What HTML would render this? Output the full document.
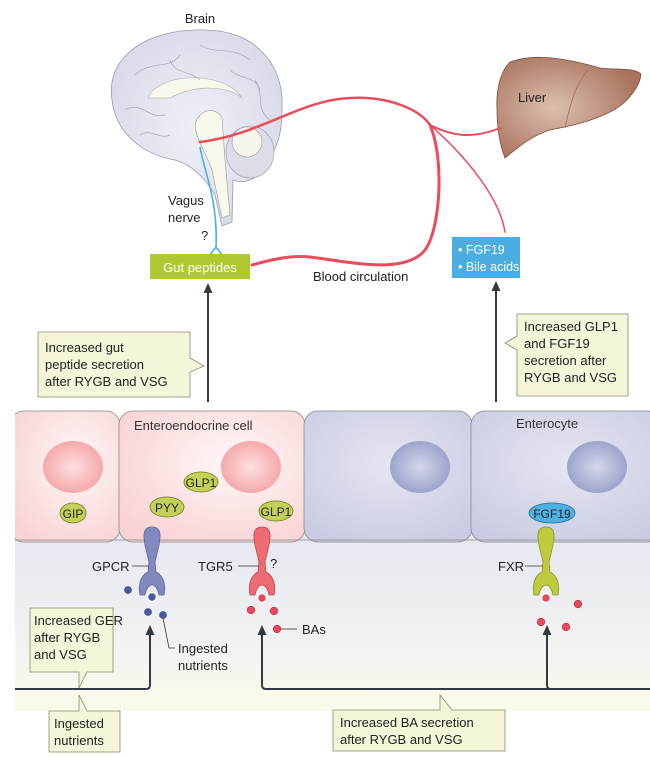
<!DOCTYPE html>
<html><head><meta charset="utf-8"><style>
html,body{margin:0;padding:0;background:#fff;}
svg{display:block;font-family:"Liberation Sans",sans-serif;}
</style></head><body>
<svg width="650" height="758" viewBox="0 0 650 758" xmlns="http://www.w3.org/2000/svg">
<defs>
<linearGradient id="lumen" x1="0" y1="0" x2="0" y2="1">
<stop offset="0" stop-color="#e6e8f1"/><stop offset="0.7" stop-color="#f4f4f2"/><stop offset="1" stop-color="#fbfbe9"/></linearGradient>
<radialGradient id="pinkcell" cx="0.6" cy="0.4" r="0.7"><stop offset="0" stop-color="#fff7f7"/><stop offset="1" stop-color="#f9d3d4"/></radialGradient>
<radialGradient id="bluecell" cx="0.5" cy="0.4" r="0.7"><stop offset="0" stop-color="#e5e6f2"/><stop offset="1" stop-color="#c9cbe3"/></radialGradient>
<radialGradient id="pnuc"><stop offset="0" stop-color="#fde0e0"/><stop offset="1" stop-color="#f5a9ab"/></radialGradient>
<radialGradient id="bnuc"><stop offset="0" stop-color="#d5d7ec"/><stop offset="1" stop-color="#9ea3cc"/></radialGradient>
<radialGradient id="liv" cx="0.4" cy="0.5" r="0.6"><stop offset="0" stop-color="#dcc0b0"/><stop offset="1" stop-color="#a9735d"/></radialGradient>
<radialGradient id="brn" cx="0.5" cy="0.5" r="0.6"><stop offset="0" stop-color="#f0f0f7"/><stop offset="1" stop-color="#d7d9e8"/></radialGradient>
<marker id="ah" markerUnits="userSpaceOnUse" markerWidth="10" markerHeight="10" refX="5" refY="5" orient="auto"><path d="M0,0.5 L10,5 L0,9.5 z" fill="#333a44"/></marker>
<path id="rec" d="M0,527 C9,527 9,535 7,545 L3,562 L4,572 C12,576 14,586 12,595 L7,595 C6,589 3,585 0,585 C-3,585 -6,589 -7,595 L-12,595 C-14,586 -12,576 -4,572 L-3,562 L-7,545 C-9,535 -9,527 0,527Z"/>
</defs>

<rect x="15" y="535" width="635" height="176" fill="url(#lumen)"/>

<rect x="10" y="411" width="110" height="131" rx="14" fill="url(#pinkcell)" stroke="#8a8a8a" stroke-width="0.8"/>
<rect x="119" y="411" width="186" height="131" rx="14" fill="url(#pinkcell)" stroke="#8a8a8a" stroke-width="0.8"/>
<rect x="304" y="411" width="168" height="131" rx="14" fill="url(#bluecell)" stroke="#8a8a8a" stroke-width="0.8"/>
<rect x="471" y="411" width="190" height="131" rx="14" fill="url(#bluecell)" stroke="#8a8a8a" stroke-width="0.8"/>
<rect x="0" y="405" width="15" height="140" fill="#fff"/>
<line x1="15" y1="540" x2="650" y2="540" stroke="#8a8a8a" stroke-width="0.8"/>

<ellipse cx="73" cy="467" rx="30" ry="26" fill="url(#pnuc)"/>
<ellipse cx="251" cy="467" rx="30" ry="26" fill="url(#pnuc)"/>
<ellipse cx="420" cy="467" rx="30" ry="26" fill="url(#bnuc)"/>
<ellipse cx="597" cy="467" rx="30" ry="26" fill="url(#bnuc)"/>

<text x="134" y="430" font-size="13" fill="#333">Enteroendocrine cell</text>
<text x="516" y="428" font-size="13" fill="#333">Enterocyte</text>

<g font-size="12" fill="#222" text-anchor="middle" stroke-width="0.8">
<ellipse cx="73" cy="513" rx="13" ry="10" fill="#c3d159" stroke="#6d7a22"/><text x="73" y="518">GIP</text>
<ellipse cx="167" cy="507" rx="17" ry="10" fill="#c3d159" stroke="#6d7a22"/><text x="167" y="512">PYY</text>
<ellipse cx="201" cy="482" rx="17" ry="10" fill="#c3d159" stroke="#6d7a22"/><text x="201" y="487">GLP1</text>
<ellipse cx="276" cy="511" rx="17" ry="10" fill="#c3d159" stroke="#6d7a22"/><text x="276" y="516">GLP1</text>
<ellipse cx="552" cy="513" rx="23" ry="10" fill="#4db1e3" stroke="#1f6f9a"/><text x="552" y="518">FGF19</text>
</g>

<use href="#rec" transform="translate(152,0)" fill="#8289be" stroke="#5b619a" stroke-width="0.8"/>
<use href="#rec" transform="translate(262,0)" fill="#ee6b74" stroke="#c0464f" stroke-width="0.8"/>
<use href="#rec" transform="translate(546,0)" fill="#bfcb3f" stroke="#8a9424" stroke-width="0.8"/>

<g font-size="13" fill="#222">
<text x="92" y="571">GPCR</text><line x1="132" y1="566" x2="149" y2="566" stroke="#333" stroke-width="0.8"/>
<text x="198" y="571">TGR5</text><line x1="238" y1="566" x2="259" y2="566" stroke="#333" stroke-width="0.8"/>
<text x="270" y="568">?</text>
<text x="498" y="571">FXR</text><line x1="525" y1="566" x2="543" y2="566" stroke="#333" stroke-width="0.8"/>
<text x="302" y="634">BAs</text><line x1="281" y1="629" x2="297" y2="629" stroke="#333" stroke-width="0.8"/>
<text x="178" y="653">Ingested</text><text x="178" y="670">nutrients</text>
<polyline points="163,618 169,648 175,648" fill="none" stroke="#333" stroke-width="0.8"/>
</g>

<g fill="#4a58a3" stroke="#2a347a" stroke-width="0.6">
<circle cx="128" cy="590" r="3.5"/><circle cx="148" cy="612" r="3.5"/><circle cx="163" cy="615" r="3.5"/></g>
<circle cx="152" cy="597" r="4.5" fill="#4a58a3" stroke="#fff" stroke-width="1.5"/>
<g fill="#e84a5c" stroke="#b02a3a" stroke-width="0.6">
<circle cx="251" cy="610" r="3.8"/><circle cx="274" cy="611" r="3.8"/><circle cx="277" cy="629" r="3.8"/>
<circle cx="578" cy="604" r="3.8"/><circle cx="541" cy="622" r="3.8"/><circle cx="566" cy="627" r="3.8"/></g>
<circle cx="262" cy="598" r="4.5" fill="#e84a5c" stroke="#fff" stroke-width="1.5"/>
<circle cx="546" cy="598" r="4.5" fill="#e84a5c" stroke="#fff" stroke-width="1.5"/>

<g fill="none" stroke="#333a44" stroke-width="2">
<path d="M15,689 L146,689 Q150,689 150,685 L150,630" marker-end="url(#ah)"/>
<path d="M650,689 L266,689 Q262,689 262,685 L262,630" marker-end="url(#ah)"/>
<path d="M551,689 Q547,689 547,685 L547,630" marker-end="url(#ah)"/>
<path d="M208,402 L208,288" marker-end="url(#ah)"/>
<path d="M496,402 L496,286" marker-end="url(#ah)"/>
</g>

<g fill="#f4f5d9" stroke="#8a8a6a" stroke-width="0.8">
<path d="M30,608 L113,608 L113,672 L87,672 L79,688 L79,672 L30,672 Z"/>
<path d="M49,711 L79,711 L79,695 L87,711 L120,711 L120,752 L49,752 Z"/>
<path d="M333,710 L440,710 L440,695 L452,710 L505,710 L505,751 L333,751 Z"/>
<path d="M38,332 L190,332 L190,358 L204,366 L190,372 L190,397 L38,397 Z"/>
<path d="M517,314 L628,314 L628,396 L517,396 L517,350 L505,343 L517,336 Z"/>
</g>
<g font-size="13" fill="#222">
<text x="34" y="625">Increased GER</text><text x="34" y="642">after RYGB</text><text x="34" y="659">and VSG</text>
<text x="54" y="728">Ingested</text><text x="54" y="745">nutrients</text>
<text x="340" y="727">Increased BA secretion</text><text x="340" y="744">after RYGB and VSG</text>
<text x="45" y="352">Increased gut</text><text x="45" y="369">peptide secretion</text><text x="45" y="386">after RYGB and VSG</text>
<text x="524" y="331">Increased GLP1</text><text x="524" y="348">and FGF19</text><text x="524" y="365">secretion after</text><text x="524" y="382">RYGB and VSG</text>
</g>

<!-- brain -->
<path d="M112,100 C105,55 150,28 205,30 C255,30 285,65 282,110 C282,135 276,150 268,160 C262,178 245,185 233,180 L232,222 L222,226 L215,195 C205,178 192,165 175,160 C145,155 116,135 112,100Z" fill="url(#brn)" stroke="#999aae" stroke-width="0.8"/>
<ellipse cx="250" cy="152" rx="24" ry="26" fill="#dcdde8" stroke="#999" stroke-width="0.6"/>
<circle cx="247" cy="142" r="15" fill="#f6f6ec" stroke="#999" stroke-width="0.6"/>
<path d="M148,98 C158,72 225,70 242,98 C232,88 200,82 170,98 Z" fill="#f8f8ec" stroke="#aaa" stroke-width="0.6"/>
<path d="M195,125 C198,110 215,105 222,118 L225,160 L230,215 L222,218 L212,170 C205,150 196,140 195,125Z" fill="#f8f8ec" stroke="#999" stroke-width="0.6"/>
<g fill="none" stroke="#a4a6b8" stroke-width="0.7">
<path d="M135,75 C150,60 170,70 180,55 M200,45 C215,55 230,45 250,60 M255,80 C265,95 255,110 270,120 M125,110 C140,100 150,120 165,115 M170,60 C175,75 190,70 200,80 M230,70 C240,80 255,75 260,90 M140,135 C150,128 160,140 170,135"/>
</g>
<text x="200" y="23" font-size="13" fill="#222" text-anchor="middle">Brain</text>
<path d="M200,147 C205,175 218,200 216,247 M216,247 L209,256 M216,247 L223,256" fill="none" stroke="#4aaee0" stroke-width="1.6"/>
<text x="168" y="205" font-size="13" fill="#222">Vagus</text>
<text x="168" y="222" font-size="13" fill="#222">nerve</text>
<text x="201" y="240" font-size="13" fill="#222">?</text>

<path d="M510,62 C530,55 555,55 600,68 C620,70 635,68 641,74 C640,88 625,105 610,112 C590,122 570,126 550,130 C530,136 515,150 505,158 C498,140 497,120 497,110 C496,90 500,72 510,62Z" fill="url(#liv)" stroke="#7a5040" stroke-width="0.8"/>
<path d="M588,70 C575,85 570,105 565,128" fill="none" stroke="#a06c58" stroke-width="0.8"/>
<text x="518" y="102" font-size="13" fill="#222">Liver</text>

<g fill="none" stroke="#ec4b5c" stroke-linecap="round">
<path d="M200,142 C260,135 300,100 350,98 C390,96 420,110 430,125" stroke-width="2.5"/>
<path d="M430,125 C445,160 440,230 425,250 C405,275 350,262 310,257 C290,255 270,260 252,265" stroke-width="3"/>
<path d="M430,125 C450,135 470,140 500,128" stroke-width="2"/>
<path d="M430,125 C470,160 500,200 505,232" stroke-width="1.5"/>
</g>
<text x="313" y="281" font-size="13" fill="#222">Blood circulation</text>

<rect x="150" y="254" width="100" height="25" fill="#b0c832"/>
<text x="200" y="272" font-size="13" fill="#fff" text-anchor="middle">Gut peptides</text>
<rect x="452" y="237" width="68" height="41" fill="#4aaee3"/>
<text x="458" y="254" font-size="12.5" fill="#fff">• FGF19</text>
<text x="458" y="271" font-size="12.5" fill="#fff">• Bile acids</text>
</svg>
</body></html>
